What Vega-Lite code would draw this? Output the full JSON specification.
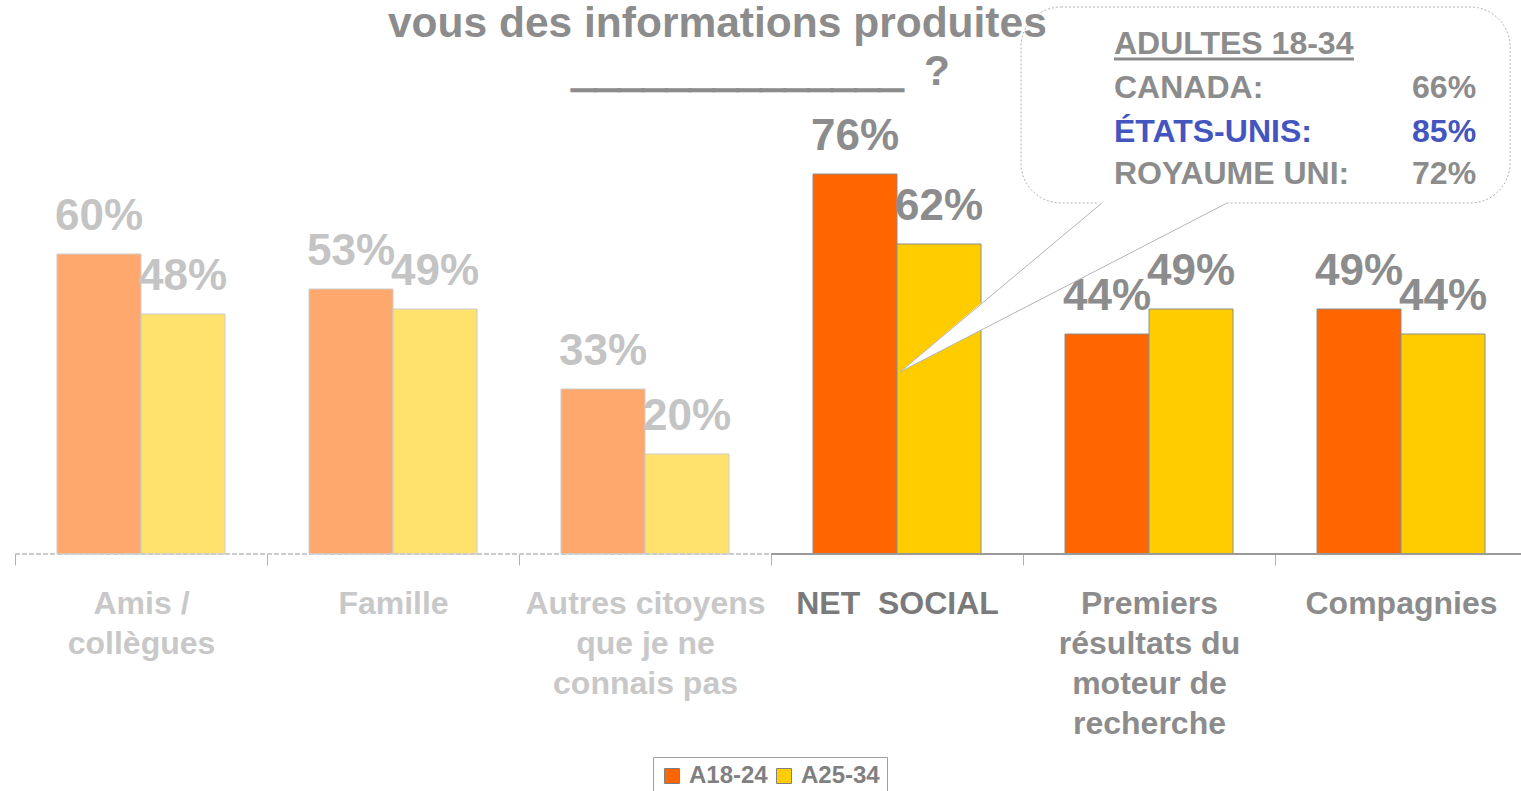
{
  "$schema": "https://vega.github.io/schema/vega-lite/v6.json",
  "width": 1512,
  "height": 500,
  "autosize": {"type": "none"},
  "padding": {"left": 15, "top": 54, "right": -6, "bottom": 237},
  "background": "white",
  "config": {"view": {"stroke": null}, "font": "Liberation Sans"},
  "datasets": {
    "barres": [
      {"categorie": "Amis /|collègues", "groupe": "A18-24", "valeur": 0.60},
      {"categorie": "Amis /|collègues", "groupe": "A25-34", "valeur": 0.48},
      {"categorie": "Famille", "groupe": "A18-24", "valeur": 0.53},
      {"categorie": "Famille", "groupe": "A25-34", "valeur": 0.49},
      {"categorie": "Autres citoyens|que je ne|connais pas", "groupe": "A18-24", "valeur": 0.33},
      {"categorie": "Autres citoyens|que je ne|connais pas", "groupe": "A25-34", "valeur": 0.20},
      {"categorie": "NET  SOCIAL", "groupe": "A18-24", "valeur": 0.76},
      {"categorie": "NET  SOCIAL", "groupe": "A25-34", "valeur": 0.62},
      {"categorie": "Premiers|résultats du|moteur de|recherche", "groupe": "A18-24", "valeur": 0.44},
      {"categorie": "Premiers|résultats du|moteur de|recherche", "groupe": "A25-34", "valeur": 0.49},
      {"categorie": "Compagnies", "groupe": "A18-24", "valeur": 0.49},
      {"categorie": "Compagnies", "groupe": "A25-34", "valeur": 0.44}
    ],
    "encadre": [
      {"pays": "CANADA:", "valeur": 0.66},
      {"pays": "ÉTATS-UNIS:", "valeur": 0.85},
      {"pays": "ROYAUME UNI:", "valeur": 0.72}
    ],
    "un": [{}]
  },
  "layer": [
    {
      "data": {"name": "barres"},
      "encoding": {
        "x": {
          "field": "categorie",
          "type": "nominal",
          "sort": null,
          "scale": {"paddingInner": 0, "paddingOuter": 0},
          "axis": {
            "title": null,
            "domain": false,
            "ticks": true,
            "tickBand": "extent",
            "tickSize": 11,
            "tickColor": "#b0b0b0",
            "labelAngle": 0,
            "labelFont": "Liberation Sans",
            "labelFontSize": 32,
            "labelFontWeight": "bold",
            "labelLineHeight": 40,
            "labelPadding": 23,
            "labelLimit": 400,
            "labelOverlap": false,
            "labelBound": false,
            "labelExpr": "split(replace(datum.label, '  ', ' \u00a0'), '|')",
            "labelColor": {
              "condition": [
                {"test": "indexof(['Amis /|collègues','Famille','Autres citoyens|que je ne|connais pas'], datum.value) >= 0", "value": "#c8c8c8"},
                {"test": "datum.value === 'NET  SOCIAL'", "value": "#7a7a7a"}
              ],
              "value": "#8c8c8c"
            }
          }
        },
        "xOffset": {
          "field": "groupe",
          "type": "nominal",
          "scale": {"paddingInner": 0, "paddingOuter": 0.5}
        },
        "y": {
          "field": "valeur",
          "type": "quantitative",
          "scale": {"domain": [0, 1]},
          "axis": null
        }
      },
      "layer": [
        {
          "mark": {"type": "bar", "strokeWidth": 1},
          "encoding": {
            "color": {
              "field": "groupe",
              "type": "nominal",
              "scale": {"domain": ["A18-24", "A25-34"], "range": ["#FF6600", "#FFCC00"]},
              "legend": {
                "title": null,
                "orient": "none",
                "direction": "horizontal",
                "legendX": 638,
                "legendY": 703,
                "padding": 7,
                "strokeColor": "#a0a0a0",
                "fillColor": "white",
                "symbolType": "square",
                "symbolSize": 225,
                "symbolStrokeColor": "#808080",
                "symbolStrokeWidth": 1,
                "labelFont": "Liberation Sans",
                "labelFontSize": 24,
                "labelFontWeight": "bold",
                "labelColor": "#808080",
                "labelOffset": 5,
                "columnPadding": 4
              }
            },
            "fillOpacity": {
              "condition": {"test": "indexof(['Amis /|collègues','Famille','Autres citoyens|que je ne|connais pas'], datum.categorie) >= 0", "value": 0.57},
              "value": 1
            },
            "stroke": {
              "condition": {"test": "indexof(['Amis /|collègues','Famille','Autres citoyens|que je ne|connais pas'], datum.categorie) >= 0", "value": "#cccccc"},
              "value": "#8c8c8c"
            }
          }
        },
        {
          "mark": {"type": "text", "font": "Liberation Sans", "fontSize": 44, "fontWeight": "bold", "baseline": "alphabetic", "dy": -24},
          "encoding": {
            "text": {"field": "valeur", "type": "quantitative", "format": ".0%"},
            "color": {
              "condition": {"test": "indexof(['Amis /|collègues','Famille','Autres citoyens|que je ne|connais pas'], datum.categorie) >= 0", "value": "#c4c4c4"},
              "value": "#8c8c8c"
            }
          }
        }
      ]
    },
    {
      "layer": [
        {
          "data": {"name": "un"},
          "mark": {"type": "rule", "color": "#cccccc", "strokeWidth": 2, "strokeDash": [5, 2]},
          "encoding": {
            "x": {"datum": 0, "type": "quantitative", "scale": {"domain": [0, 6], "nice": false, "zero": false}, "axis": null},
            "x2": {"datum": 3},
            "y": {"datum": 0, "type": "quantitative", "scale": {"domain": [0, 1]}}
          }
        },
        {
          "data": {"name": "un"},
          "mark": {"type": "rule", "color": "#9a9a9a", "strokeWidth": 2},
          "encoding": {
            "x": {"datum": 3, "type": "quantitative", "scale": {"domain": [0, 6], "nice": false, "zero": false}, "axis": null},
            "x2": {"datum": 6},
            "y": {"datum": 0, "type": "quantitative", "scale": {"domain": [0, 1]}}
          }
        },
        {
          "data": {"name": "un"},
          "mark": {"type": "rect", "fill": "white", "stroke": "#b4b4b4", "strokeWidth": 1, "strokeDash": [2, 2], "cornerRadius": 40},
          "encoding": {
            "x": {"datum": 3.992, "type": "quantitative", "scale": {"domain": [0, 6], "nice": false, "zero": false}, "axis": null},
            "x2": {"datum": 5.933},
            "y": {"datum": 1.094, "type": "quantitative", "scale": {"domain": [0, 1]}},
            "y2": {"datum": 0.702}
          }
        },
        {
          "data": {"name": "un"},
          "mark": {"type": "text", "font": "Liberation Sans", "fontSize": 42.5, "fontWeight": "bold", "color": "#8c8c8c", "align": "left", "baseline": "alphabetic"},
          "encoding": {
            "x": {"datum": 1.48, "type": "quantitative", "scale": {"domain": [0, 6], "nice": false, "zero": false}, "axis": null},
            "y": {"datum": 1.034, "type": "quantitative", "scale": {"domain": [0, 1]}},
            "text": {"value": "vous des informations produites"}
          }
        },
        {
          "data": {"name": "un"},
          "mark": {"type": "text", "font": "Liberation Sans", "fontSize": 42.5, "fontWeight": "bold", "color": "#8c8c8c", "stroke": "#8c8c8c", "strokeWidth": 2.5, "align": "left", "baseline": "alphabetic"},
          "encoding": {
            "x": {"datum": 2.21, "type": "quantitative", "scale": {"domain": [0, 6], "nice": false, "zero": false}, "axis": null},
            "y": {"datum": 0.936, "type": "quantitative", "scale": {"domain": [0, 1]}},
            "text": {"value": "______________"}
          }
        },
        {
          "data": {"name": "un"},
          "mark": {"type": "text", "font": "Liberation Sans", "fontSize": 42.5, "fontWeight": "bold", "color": "#8c8c8c", "align": "left", "baseline": "alphabetic"},
          "encoding": {
            "x": {"datum": 3.607, "type": "quantitative", "scale": {"domain": [0, 6], "nice": false, "zero": false}, "axis": null},
            "y": {"datum": 0.938, "type": "quantitative", "scale": {"domain": [0, 1]}},
            "text": {"value": "?"}
          }
        },
        {
          "data": {"values": [
            {"px": 3.512, "py": 0.364, "py2": 0.364},
            {"px": 4.313, "py": 0.707, "py2": 0.5726},
            {"px": 4.81, "py": 0.707, "py2": 0.702}
          ]},
          "mark": {"type": "area", "fill": "white", "opacity": 1},
          "encoding": {
            "x": {"field": "px", "type": "quantitative", "scale": {"domain": [0, 6], "nice": false, "zero": false}, "axis": null},
            "y": {"field": "py", "type": "quantitative", "scale": {"domain": [0, 1]}},
            "y2": {"field": "py2"}
          }
        },
        {
          "data": {"values": [
            {"px": 3.512, "py": 0.364, "px2": 4.313, "py2": 0.702},
            {"px": 3.512, "py": 0.364, "px2": 4.81, "py2": 0.702}
          ]},
          "mark": {"type": "rule", "color": "#b4b4b4", "strokeWidth": 1},
          "encoding": {
            "x": {"field": "px", "type": "quantitative", "scale": {"domain": [0, 6], "nice": false, "zero": false}, "axis": null},
            "x2": {"field": "px2"},
            "y": {"field": "py", "type": "quantitative", "scale": {"domain": [0, 1]}},
            "y2": {"field": "py2"}
          }
        },
        {
          "data": {"name": "un"},
          "mark": {"type": "text", "font": "Liberation Sans", "fontSize": 32, "fontWeight": "bold", "color": "#8c8c8c", "align": "left", "baseline": "alphabetic"},
          "encoding": {
            "x": {"datum": 4.361, "type": "quantitative", "scale": {"domain": [0, 6], "nice": false, "zero": false}, "axis": null},
            "y": {"datum": 1.001, "type": "quantitative", "scale": {"domain": [0, 1]}},
            "text": {"value": "ADULTES 18-34"}
          }
        },
        {
          "data": {"name": "un"},
          "mark": {"type": "rule", "color": "#8c8c8c", "strokeWidth": 3},
          "encoding": {
            "x": {"datum": 4.361, "type": "quantitative", "scale": {"domain": [0, 6], "nice": false, "zero": false}, "axis": null},
            "x2": {"datum": 5.313},
            "y": {"datum": 0.99, "type": "quantitative", "scale": {"domain": [0, 1]}}
          }
        },
        {
          "data": {"name": "encadre"},
          "transform": [{"filter": "datum.pays === 'CANADA:'"}],
          "layer": [
            {
              "mark": {"type": "text", "font": "Liberation Sans", "fontSize": 32, "fontWeight": "bold", "color": "#8c8c8c", "align": "left", "baseline": "alphabetic"},
              "encoding": {
                "x": {"datum": 4.361, "type": "quantitative", "scale": {"domain": [0, 6], "nice": false, "zero": false}, "axis": null},
                "y": {"datum": 0.912, "type": "quantitative", "scale": {"domain": [0, 1]}},
                "text": {"field": "pays"}
              }
            },
            {
              "mark": {"type": "text", "font": "Liberation Sans", "fontSize": 32, "fontWeight": "bold", "color": "#8c8c8c", "align": "right", "baseline": "alphabetic"},
              "encoding": {
                "x": {"datum": 5.798, "type": "quantitative", "scale": {"domain": [0, 6], "nice": false, "zero": false}, "axis": null},
                "y": {"datum": 0.912, "type": "quantitative", "scale": {"domain": [0, 1]}},
                "text": {"field": "valeur", "type": "quantitative", "format": ".0%"}
              }
            }
          ]
        },
        {
          "data": {"name": "encadre"},
          "transform": [{"filter": "datum.pays === 'ÉTATS-UNIS:'"}],
          "layer": [
            {
              "mark": {"type": "text", "font": "Liberation Sans", "fontSize": 32, "fontWeight": "bold", "color": "#4455c0", "align": "left", "baseline": "alphabetic"},
              "encoding": {
                "x": {"datum": 4.361, "type": "quantitative", "scale": {"domain": [0, 6], "nice": false, "zero": false}, "axis": null},
                "y": {"datum": 0.824, "type": "quantitative", "scale": {"domain": [0, 1]}},
                "text": {"field": "pays"}
              }
            },
            {
              "mark": {"type": "text", "font": "Liberation Sans", "fontSize": 32, "fontWeight": "bold", "color": "#4455c0", "align": "right", "baseline": "alphabetic"},
              "encoding": {
                "x": {"datum": 5.798, "type": "quantitative", "scale": {"domain": [0, 6], "nice": false, "zero": false}, "axis": null},
                "y": {"datum": 0.824, "type": "quantitative", "scale": {"domain": [0, 1]}},
                "text": {"field": "valeur", "type": "quantitative", "format": ".0%"}
              }
            }
          ]
        },
        {
          "data": {"name": "encadre"},
          "transform": [{"filter": "datum.pays === 'ROYAUME UNI:'"}],
          "layer": [
            {
              "mark": {"type": "text", "font": "Liberation Sans", "fontSize": 32, "fontWeight": "bold", "color": "#8c8c8c", "align": "left", "baseline": "alphabetic"},
              "encoding": {
                "x": {"datum": 4.361, "type": "quantitative", "scale": {"domain": [0, 6], "nice": false, "zero": false}, "axis": null},
                "y": {"datum": 0.74, "type": "quantitative", "scale": {"domain": [0, 1]}},
                "text": {"field": "pays"}
              }
            },
            {
              "mark": {"type": "text", "font": "Liberation Sans", "fontSize": 32, "fontWeight": "bold", "color": "#8c8c8c", "align": "right", "baseline": "alphabetic"},
              "encoding": {
                "x": {"datum": 5.798, "type": "quantitative", "scale": {"domain": [0, 6], "nice": false, "zero": false}, "axis": null},
                "y": {"datum": 0.74, "type": "quantitative", "scale": {"domain": [0, 1]}},
                "text": {"field": "valeur", "type": "quantitative", "format": ".0%"}
              }
            }
          ]
        }
      ]
    }
  ],
  "resolve": {"scale": {"x": "independent"}, "axis": {"x": "independent"}}
}
